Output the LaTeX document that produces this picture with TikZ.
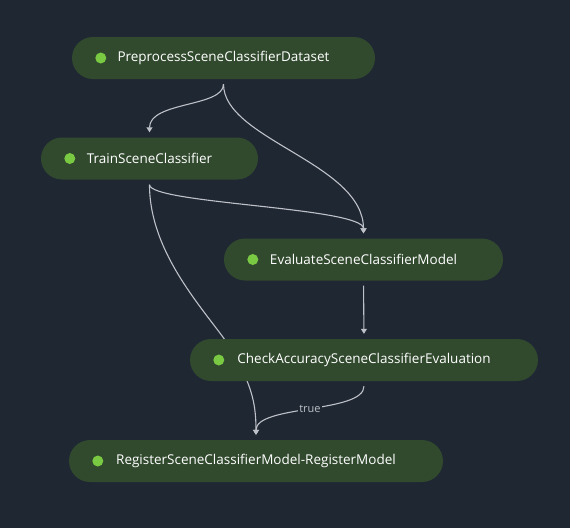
\documentclass[tikz,border=0pt]{standalone}
\usepackage{fontspec}
\setmainfont{Open Sans}
\usetikzlibrary{
  arrows.meta,
}
\definecolor{bgcol}{HTML}{1F2733}
\definecolor{stepfill}{HTML}{314A2E}
\definecolor{stepdot}{HTML}{7AC943}
\definecolor{linecol}{HTML}{BEC2C8}
\pgfdeclarelayer{back}
\pgfdeclarelayer{edges}
\pgfsetlayers{back,edges,main}
\tikzset{
  stepnode/.style={fill=stepfill, text=white, rounded corners=21pt, minimum height=42pt,
    inner sep=0pt, font=\fontsize{13.5}{16}\selectfont},
  edge/.style={draw=linecol, line width=1.1pt, shorten <=5pt, shorten >=5pt,
    -{Triangle[width=6pt,length=5pt]}},
}

\begin{document}
\begin{tikzpicture}[x=1pt, y=-1pt]
\begin{pgfonlayer}{back}
\fill[bgcol] (0,0) rectangle (570,528);
\end{pgfonlayer}
\useasboundingbox (0,0) rectangle (570,528);
\foreach \name/\x/\y/\w/\txt in {
  pre/223.5/58/303/PreprocessSceneClassifierDataset,
  train/149.5/158.5/217/TrainSceneClassifier,
  eval/363.5/259.5/279/EvaluateSceneClassifierModel,
  check/364/360/348/CheckAccuracySceneClassifierEvaluation,
  reg/256/461/374/RegisterSceneClassifierModel-RegisterModel} {
  \node[stepnode, minimum width=\w pt] (\name) at (\x,\y) {\txt};
  \fill[stepdot] ([xshift=29pt]\name.west) circle[radius=5.5pt];
}
\coordinate (bend) at (235,355);
\begin{pgfonlayer}{edges}
\draw[edge] (pre.south) .. controls +(0,28) and +(0,-36) .. (train.north);
\draw[edge] (pre.south) .. controls +(0,60) and +(0,-75) .. (eval.north);
\draw[edge] (train.south) .. controls +(0,24) and +(0,-31) .. (eval.north);
\draw[edge] (train.south) .. controls +(0,80) and +(-20,-35) .. (bend)
  .. controls +(15,30) and +(0,-40) .. (reg.north);
\draw[edge] (eval.south) -- (check.south |- check.north);
\draw[edge] (check.south) .. controls +(0,32) and +(0,-35) .. (reg.north)
  node[pos=0.5, fill=bgcol, text=linecol, inner sep=1pt, font=\fontsize{11}{13}\selectfont] (cond) {true};
\end{pgfonlayer}
\end{tikzpicture}
\end{document}
